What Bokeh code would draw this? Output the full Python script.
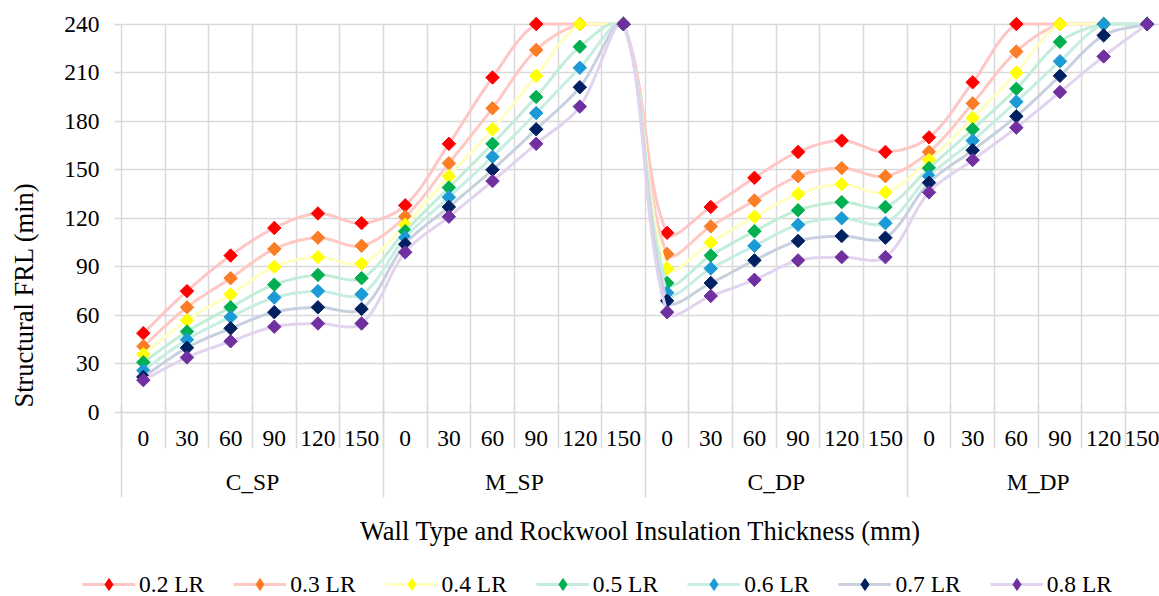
import numpy as np
from bokeh.plotting import figure
from bokeh.layouts import column, row
from bokeh.models import (Range1d, FixedTicker, LinearAxis, Legend, LegendItem, Grid, Label)
from bokeh.embed import file_html
from bokeh.resources import INLINE

# ---------------- data ----------------
groups = ["C_SP", "M_SP", "C_DP", "M_DP"]
thicknesses = ["0", "30", "60", "90", "120", "150"]
series_labels = ["0.2 LR", "0.3 LR", "0.4 LR", "0.5 LR", "0.6 LR", "0.7 LR", "0.8 LR"]

lr_02 = [49, 75, 97, 114, 123, 117, 128, 166, 207, 240, 240, 240,
         111, 127, 145, 161, 168, 161, 170, 204, 240, 240, 240, 240]
lr_03 = [41, 65, 83, 101, 108, 103, 121, 154, 188, 224, 240, 240,
         98, 115, 131, 146, 151, 146, 161, 191, 223, 240, 240, 240]
lr_04 = [36, 57, 73, 90, 96, 92, 116, 146, 175, 208, 240, 240,
         89, 105, 121, 135, 141, 136, 156, 182, 210, 240, 240, 240]
lr_05 = [31, 50, 65, 79, 85, 83, 112, 139, 166, 195, 226, 240,
         80, 97, 112, 125, 130, 127, 151, 175, 200, 229, 240, 240]
lr_06 = [26, 45, 59, 71, 75, 73, 108, 133, 158, 185, 213, 240,
         74, 89, 103, 116, 120, 117, 146, 168, 192, 217, 240, 240]
lr_07 = [22, 40, 52, 62, 65, 64, 104, 127, 150, 175, 201, 240,
         69, 80, 94, 106, 109, 108, 142, 162, 183, 208, 233, 240]
lr_08 = [20, 34, 44, 53, 55, 55, 99, 121, 143, 166, 189, 240,
         62, 72, 82, 94, 96, 96, 136, 156, 176, 198, 220, 240]

series_values = [lr_02, lr_03, lr_04, lr_05, lr_06, lr_07, lr_08]
y_ticks = [0, 30, 60, 90, 120, 150, 180, 210, 240]

marker_colors = ["#FF0000", "#FB7D26", "#FFFF00", "#00B050", "#1C9AD6", "#002060", "#7030A0"]
line_colors = ["#FFC6C6", "#FFC8C2", "#FFFFC2", "#C2EED9", "#C6EEE2", "#C8D0E0", "#E2D3EE"]

# ---------------- derived positions ----------------
n_groups = len(groups)
n_thick = len(thicknesses)
n_cat = n_groups * n_thick
centers = [i + 0.5 for i in range(n_cat)]
boundaries = list(range(n_cat + 1))
group_centers = [g * n_thick + n_thick / 2 for g in range(n_groups)]
group_bounds = [g * n_thick for g in range(n_groups + 1)]
y_max = max(y_ticks)

W = 1159
W_TITLE = 45                      # strip holding the y axis title
W_MAIN = W - W_TITLE
H_MAIN, H_LEG = 556, 40
LEFT, TOP = 121 - W_TITLE, 15
FRAME_BOTTOM = 412
BOTTOM = H_MAIN - FRAME_BOTTOM
X_END = 23.78
Y_END = 245.3
PX_X = (W_MAIN - LEFT) / X_END
PX_Y = (FRAME_BOTTOM - TOP) / Y_END


def smooth_curve(xs, ys, steps=24, ycap=None):
    """Excel-like smoothed line: cubic Bezier, tangents weighted by pixel distances."""
    P = np.column_stack([np.asarray(xs, float) * PX_X, np.asarray(ys, float) * PX_Y])
    n = len(P)
    cin, cout = [None] * n, [None] * n
    for i in range(n):
        prev = P[i - 1] if i > 0 else P[i]
        nxt = P[i + 1] if i < n - 1 else P[i]
        T = nxt - prev
        d0 = np.linalg.norm(P[i] - prev)
        d1 = np.linalg.norm(nxt - P[i])
        s = d0 + d1
        if s == 0:
            cin[i] = cout[i] = P[i]
            continue
        cout[i] = P[i] + T * d1 / (3.0 * s)
        cin[i] = P[i] - T * d0 / (3.0 * s)
    t = np.linspace(0, 1, steps + 1)[1:, None]
    out = [P[0]]
    for i in range(n - 1):
        p1, c1, c2, p2 = P[i], cout[i], cin[i + 1], P[i + 1]
        seg = ((1 - t) ** 3) * p1 + 3 * ((1 - t) ** 2) * t * c1 + 3 * (1 - t) * t ** 2 * c2 + t ** 3 * p2
        out.extend(seg)
    out = np.array(out)
    xx = out[:, 0] / PX_X
    yy = out[:, 1] / PX_Y
    if ycap is not None:
        yy = np.minimum(yy, ycap)
    return xx, yy


FONT = "Liberation Serif"
GRID = "#D9D9D9"
TXT = "#000000"


def bare_figure(width, height):
    f = figure(width=width, height=height, output_backend="svg", toolbar_location=None,
               x_range=Range1d(0, 1), y_range=Range1d(0, 1),
               x_axis_type=None, y_axis_type=None,
               min_border_left=0, min_border_right=0, min_border_top=0, min_border_bottom=0)
    f.outline_line_color = None
    f.grid.visible = False
    f.background_fill_color = "white"
    f.border_fill_color = "white"
    return f


p = figure(width=W_MAIN, height=H_MAIN, output_backend="svg", toolbar_location=None,
           x_range=Range1d(0, X_END), y_range=Range1d(0, Y_END),
           x_axis_type=None,
           min_border_left=LEFT, min_border_right=0, min_border_top=TOP, min_border_bottom=BOTTOM)
p.outline_line_color = None
p.background_fill_color = "white"
p.border_fill_color = "white"

# y axis
yax = p.yaxis[0]
yax.ticker = FixedTicker(ticks=y_ticks)
yax.bounds = (0, y_max)
yax.major_tick_out = 7
yax.major_tick_in = 0
yax.minor_tick_line_color = None
yax.minor_tick_out = 0
yax.major_tick_line_color = GRID
yax.major_tick_line_width = 1.5
yax.axis_line_color = GRID
yax.axis_line_width = 1.5
yax.major_label_text_font = FONT
yax.major_label_text_font_size = "23.5px"
yax.major_label_text_color = TXT
yax.major_label_standoff = 15

p.ygrid.grid_line_color = GRID
p.ygrid.grid_line_width = 1.5

# vertical grid lines at category boundaries
xgrid = Grid(dimension=0, ticker=FixedTicker(ticks=boundaries),
             grid_line_color=GRID, grid_line_width=1.5)
try:
    xgrid.cross_bounds = (0, y_max)
except Exception:
    pass
p.add_layout(xgrid)

# x axis 1: thickness labels
ax_thick = LinearAxis(ticker=FixedTicker(ticks=centers),
                      major_label_overrides={c: thicknesses[i % n_thick] for i, c in enumerate(centers)})
ax_thick.major_tick_out = 0
ax_thick.major_tick_in = 0
ax_thick.minor_tick_out = 0
ax_thick.minor_tick_in = 0
ax_thick.major_tick_line_color = None
ax_thick.minor_tick_line_color = None
ax_thick.axis_line_color = GRID
ax_thick.axis_line_width = 1.5
ax_thick.major_label_text_font = FONT
ax_thick.major_label_text_font_size = "23.5px"
ax_thick.major_label_text_color = TXT
ax_thick.major_label_standoff = 18
p.add_layout(ax_thick, "below")

# x axis 2: group labels; its minor ticks reach up as the thickness separators
ax_group = LinearAxis(ticker=FixedTicker(ticks=group_centers, minor_ticks=boundaries),
                      major_label_overrides={c: groups[i] for i, c in enumerate(group_centers)})
ax_group.major_tick_out = 0
ax_group.major_tick_in = 0
ax_group.major_tick_line_color = None
ax_group.minor_tick_in = 44
ax_group.minor_tick_out = 0
ax_group.minor_tick_line_color = GRID
ax_group.minor_tick_line_width = 1.5
ax_group.axis_line_color = None
ax_group.major_label_text_font = FONT
ax_group.major_label_text_font_size = "23.5px"
ax_group.major_label_text_color = TXT
ax_group.major_label_standoff = 20
p.add_layout(ax_group, "below")

# x axis 3: group separators reaching up, plus the axis title
ax_title = LinearAxis(ticker=FixedTicker(ticks=[], minor_ticks=group_bounds))
ax_title.major_tick_out = 0
ax_title.major_tick_in = 0
ax_title.major_tick_line_color = None
ax_title.minor_tick_in = 89
ax_title.minor_tick_out = 0
ax_title.minor_tick_line_color = GRID
ax_title.minor_tick_line_width = 1.5
ax_title.axis_line_color = None
ax_title.major_label_standoff = 0
ax_title.axis_label = "Wall Type and Rockwool Insulation Thickness (mm)"
ax_title.axis_label_text_font = FONT
ax_title.axis_label_text_font_size = "26.5px"
ax_title.axis_label_text_font_style = "normal"
ax_title.axis_label_text_color = TXT
ax_title.axis_label_standoff = 18
p.add_layout(ax_title, "below")

# series
for k, vals in enumerate(series_values):
    sx, sy = smooth_curve(centers, vals, ycap=y_max)
    p.line(x=sx, y=sy, line_color=line_colors[k], line_width=3)
    p.scatter(x=centers, y=vals, marker="square", angle=np.pi / 4, size=9.5,
              fill_color=marker_colors[k], line_color=marker_colors[k])

# y axis title strip (left of the chart)
pt = bare_figure(W_TITLE, H_MAIN)
pt.add_layout(Label(x=23, y=H_MAIN - 294.5, x_units="screen", y_units="screen",
                    text="Structural FRL (min)", angle=np.pi / 2,
                    text_align="center", text_baseline="middle",
                    text_font=FONT, text_font_size="26.5px", text_color=TXT))

# legend strip (below the chart, same series styles)
pl = bare_figure(W, H_LEG)
items = []
for k, name in enumerate(series_labels):
    r_line = pl.line(x=[np.nan, np.nan], y=[np.nan, np.nan], line_color=line_colors[k], line_width=3)
    r_pts = pl.scatter(x=[np.nan], y=[np.nan], marker="diamond", size=12,
                       fill_color=marker_colors[k], line_color=marker_colors[k])
    items.append(LegendItem(label=name, renderers=[r_line, r_pts]))

legend = Legend(items=items, orientation="horizontal", location=(82, -3),
                label_text_font=FONT, label_text_font_size="23.5px", label_text_color=TXT,
                glyph_width=53, glyph_height=30, label_standoff=4, spacing=29,
                padding=0, margin=0, border_line_color=None, background_fill_alpha=0)
pl.add_layout(legend, "center")

for fig in (p, pt, pl):
    try:
        fig.frame_align = False
    except Exception:
        pass

layout = column(row(pt, p, spacing=0), pl, spacing=0)
open("out.html", "w").write(file_html(layout, INLINE))
